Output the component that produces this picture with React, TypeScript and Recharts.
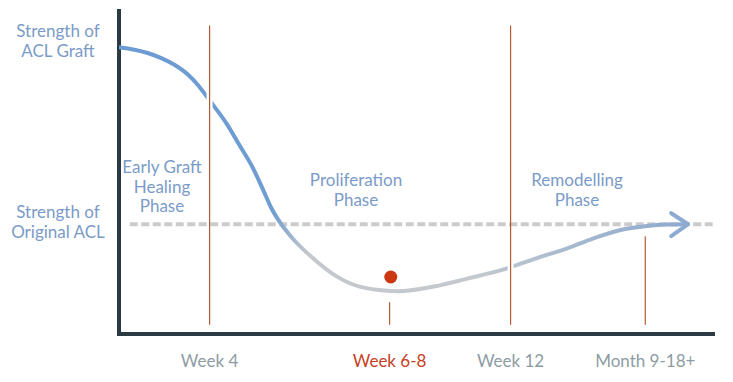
import React from "react";
import { ComposedChart, Line, XAxis, YAxis, ReferenceLine, ReferenceDot } from "recharts";

// timeline position (0-100 across the plot) vs strength (original ACL = 100)
const curveX = [0, 2.6, 4.8, 7.1, 9.3, 11.6, 13.2, 14.6, 16.0, 18.0, 20.2, 22.5, 24.2, 25.6, 27.0, 29.1, 32.0, 36.5, 40.9, 47.1, 53.8, 58.3, 64.4, 70.6, 75.1, 79.5, 84.0, 88.6, 91.9, 95.5];
const curveY = [261.2, 258.9, 255.9, 251.3, 245.2, 236.1, 227.0, 217.2, 207.1, 192.0, 172.1, 150.9, 131.1, 114.3, 101.8, 87.2, 71.7, 52.5, 42.5, 39.0, 44.3, 50.2, 58.6, 70.1, 77.8, 86.9, 94.5, 98.4, 99.7, 100];

const tickPos = [15.2, 45.4, 65.7, 88.3];
const tickLabels = ["Week 4", "Week 6-8", "Week 12", "Month 9-18+"];
const tickTops = [281, 29, 281, 89];
const originalStrength = 100;
const minPoint = { x: 45.6, y: 51.9 };

const data = curveX.map((x, i) => ({ x, strength: curveY[i] }));

const AXIS = "#2b3942";
const BROWN = "#b25a30";

const labelStyle: React.CSSProperties = {
  position: "absolute",
  width: 140,
  textAlign: "center",
  fontFamily: "Lato, sans-serif",
  fontSize: 17,
  lineHeight: "19.5px",
  color: "#7a9bc8",
};

function Tick(props: any) {
  const { x, y, payload } = props;
  const idx = tickPos.indexOf(payload.value);
  return (
    <text
      x={x}
      y={y + 25}
      textAnchor="middle"
      fontFamily="Lato, sans-serif"
      fontSize={17}
      fill={idx === 1 ? "#c63f26" : "#8d9ca3"}
    >
      {tickLabels[idx]}
    </text>
  );
}

function ArrowDot(props: any) {
  const { cx, cy, index } = props;
  if (index !== data.length - 1) return <g key={`d${index}`} />;
  return (
    <path
      key={`d${index}`}
      d={`M${cx - 17},${cy - 11} L${cx},${cy} L${cx - 17},${cy + 12}`}
      fill="none"
      stroke="#8eaad0"
      strokeWidth={4}
      strokeLinecap="round"
      strokeLinejoin="round"
    />
  );
}

export default function App() {
  return (
    <div style={{ position: "relative", width: 725, height: 374 }}>
      <ComposedChart
        width={725}
        height={374}
        data={data}
        margin={{ top: 1, right: 18, bottom: 8, left: 111 }}
      >
        <defs>
          <linearGradient id="curveGrad" x1="0" y1="0" x2="1" y2="0">
            <stop offset="0" stopColor="#6b9bd3" />
            <stop offset="0.27" stopColor="#6f9dd2" />
            <stop offset="0.33" stopColor="#c4c8cc" />
            <stop offset="0.62" stopColor="#c4c9ce" />
            <stop offset="0.85" stopColor="#9fb4cf" />
            <stop offset="1" stopColor="#8eaad0" />
          </linearGradient>
        </defs>
        <XAxis
          dataKey="x"
          type="number"
          domain={[0, 100]}
          ticks={tickPos}
          tick={<Tick />}
          tickLine={false}
          axisLine={{ stroke: AXIS, strokeWidth: 4 }}
          height={40}
          allowDataOverflow
        />
        <YAxis type="number" domain={[0, 296]} hide allowDataOverflow />
        <ReferenceLine
          segment={[{ x: 0, y: -1.8 }, { x: 0, y: 296 }]}
          stroke={AXIS}
          strokeWidth={4}
          ifOverflow="visible"
        />
        <ReferenceLine
          segment={[{ x: 1.8, y: originalStrength }, { x: 100, y: originalStrength }]}
          stroke="#cbcbcb"
          strokeWidth={4}
          strokeDasharray="8 3.5"
          ifOverflow="visible"
        />
        <Line
          dataKey="strength"
          type="monotone"
          stroke="url(#curveGrad)"
          strokeWidth={4}
          dot={ArrowDot}
          activeDot={false}
          isAnimationActive={false}
        />
        {tickPos.map((p, i) => (
          <ReferenceLine
            key={`gap${i}`}
            segment={[{ x: p, y: i === 0 ? 200 : 50 }, { x: p, y: i === 0 ? 224 : 72 }]}
            stroke={i === 0 || i === 2 ? "#ffffff" : "none"}
            strokeWidth={6}
            ifOverflow="visible"
          />
        ))}
        {tickPos.map((p, i) => (
          <ReferenceLine
            key={`v${i}`}
            segment={[{ x: p, y: 8.5 }, { x: p, y: tickTops[i] }]}
            stroke={BROWN}
            strokeWidth={1.2}
            ifOverflow="visible"
          />
        ))}
        <ReferenceDot
          x={minPoint.x}
          y={minPoint.y}
          r={6.5}
          fill="#cc3812"
          stroke="none"
          ifOverflow="visible"
        />
      </ComposedChart>
      <div style={{ ...labelStyle, left: 58 - 8 - 70, top: 31 - 8 - 10 }}>
        Strength of<br />ACL Graft
      </div>
      <div style={{ ...labelStyle, left: 58 - 8 - 70, top: 212 - 8 - 10 }}>
        Strength of<br />Original ACL
      </div>
      <div style={{ ...labelStyle, left: 162 - 8 - 70, top: 167 - 8 - 10 }}>
        Early Graft<br />Healing<br />Phase
      </div>
      <div style={{ ...labelStyle, left: 356 - 8 - 70, top: 180 - 8 - 10 }}>
        Proliferation<br />Phase
      </div>
      <div style={{ ...labelStyle, left: 577 - 8 - 70, top: 180 - 8 - 10 }}>
        Remodelling<br />Phase
      </div>
    </div>
  );
}
